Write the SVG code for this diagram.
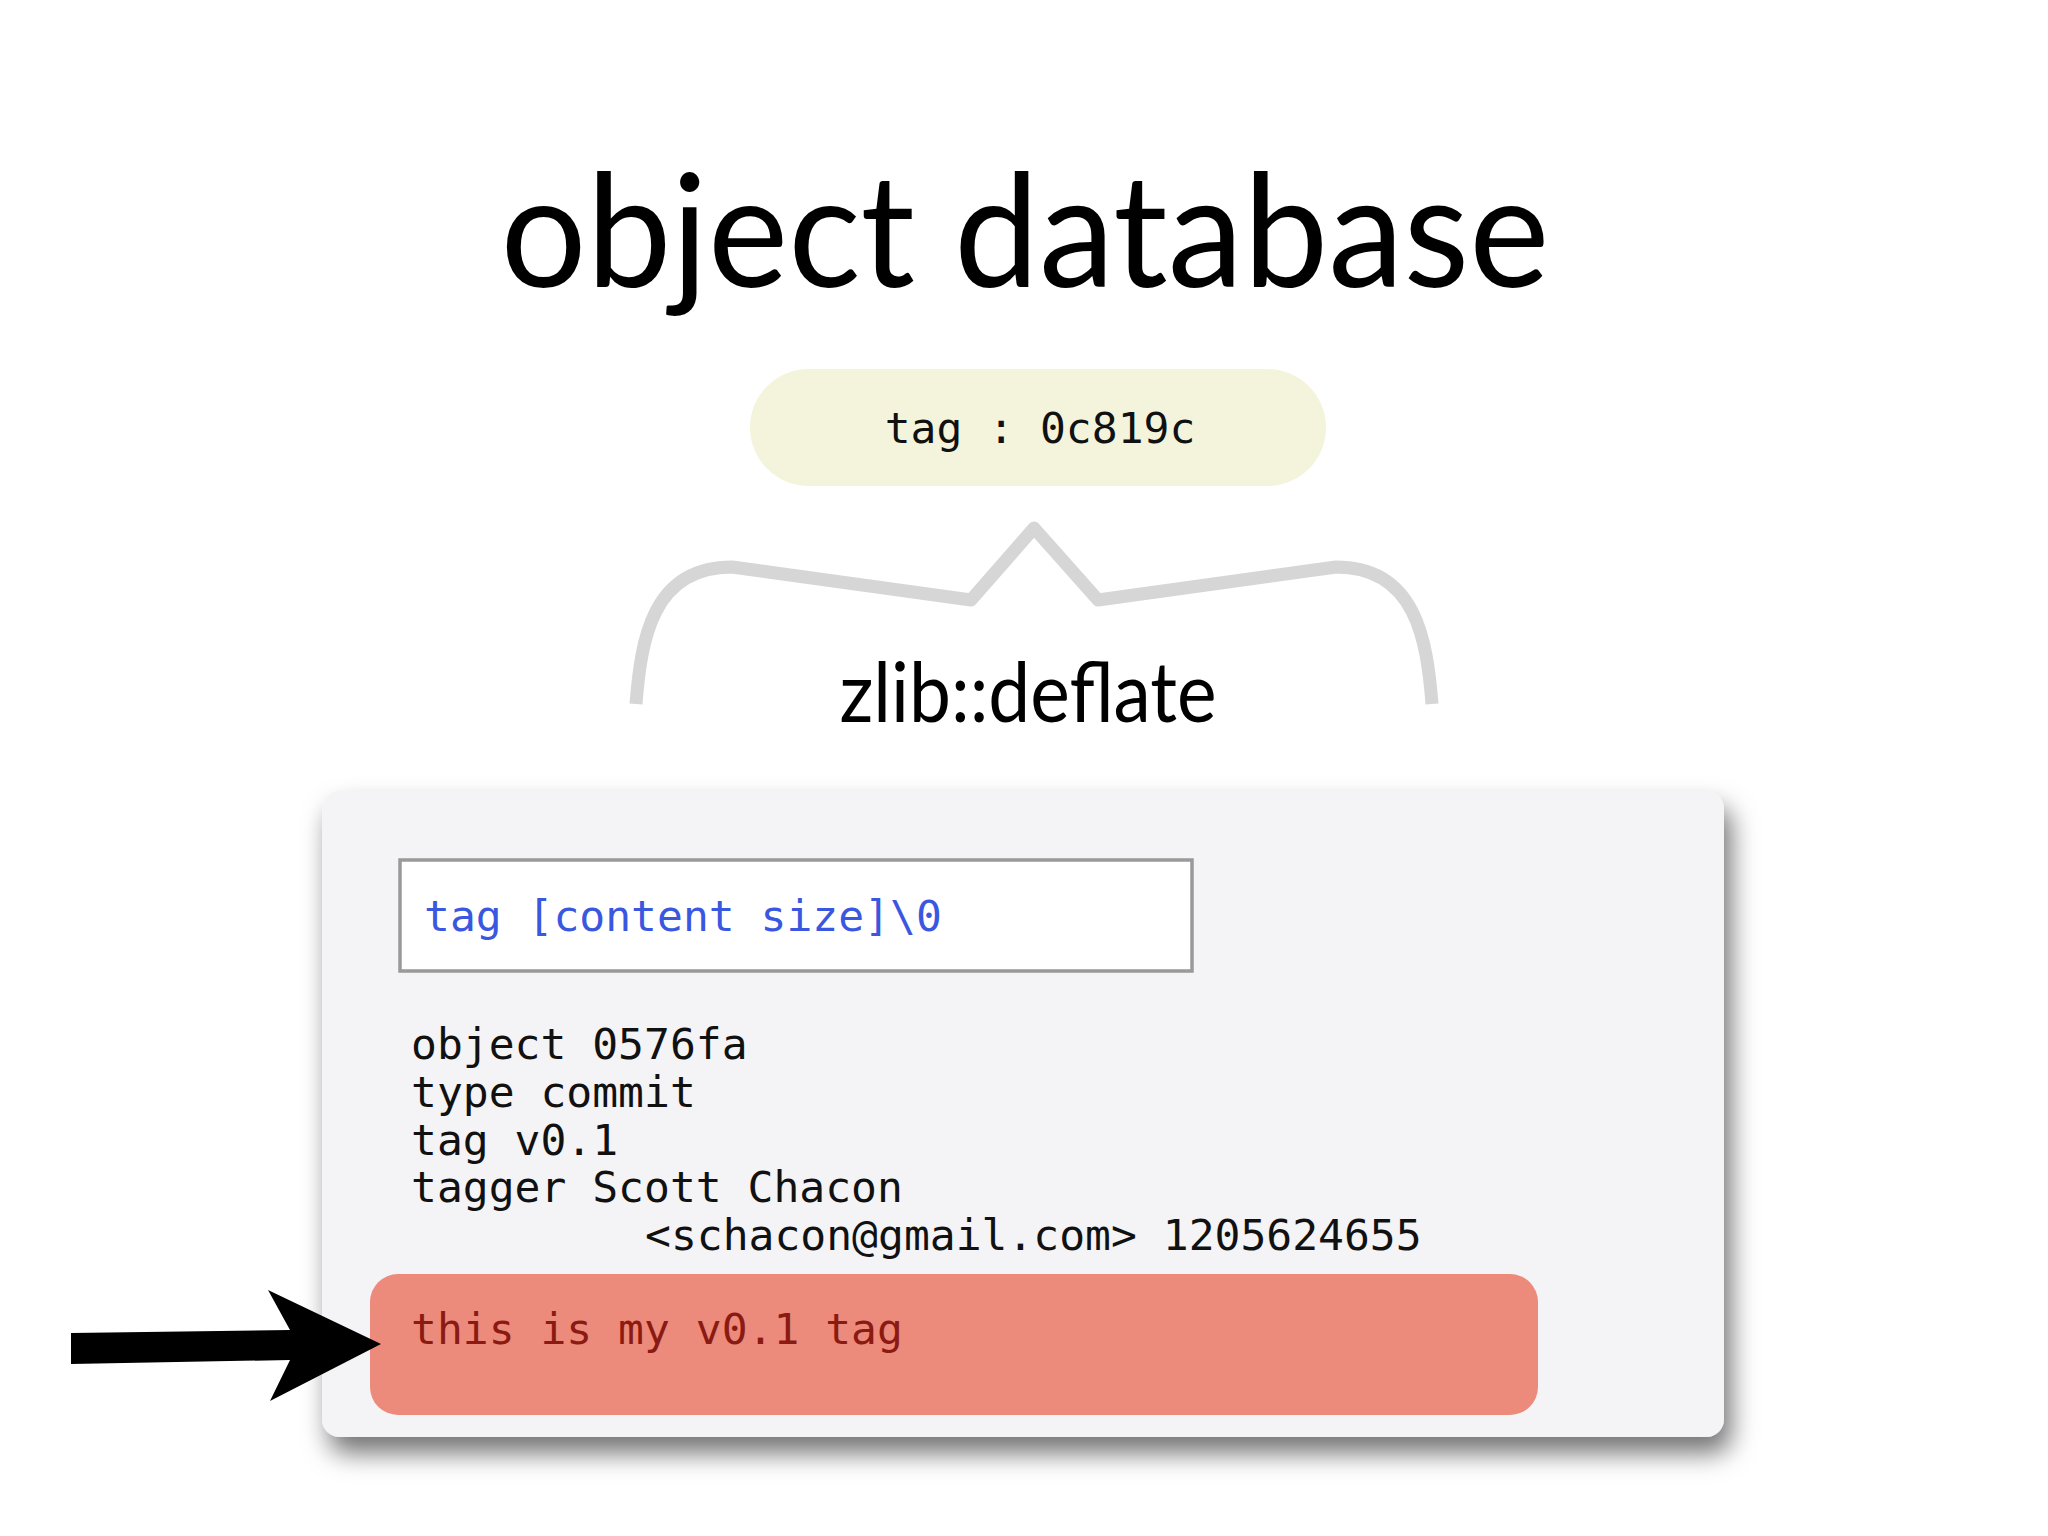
<svg xmlns="http://www.w3.org/2000/svg" width="2048" height="1536" viewBox="0 0 2048 1536">
<style>
.mono{font-family:"DejaVu Sans Mono","Liberation Mono",monospace;font-size:43px}
.title{font-family:Lato,"Noto Sans",sans-serif}
</style>
<defs>
<filter id="sh" x="-10%" y="-10%" width="125%" height="135%">
<feDropShadow dx="7" dy="16" stdDeviation="13" flood-color="#000" flood-opacity="0.55"/>
</filter>
</defs>
<rect width="2048" height="1536" fill="#ffffff"/>
<g id="title">
<text class="title" x="1025" y="287" font-size="158" text-anchor="middle" textLength="1049" lengthAdjust="spacingAndGlyphs">object database</text>
</g>
<g id="tag-node">
<rect x="750" y="369" width="576" height="117" rx="58.5" fill="#f4f4dc"/>
<text class="mono" x="1040" y="443" font-size="42" text-anchor="middle" fill="#111">tag : 0c819c</text>
</g>
<g id="zlib-label">
<text class="title" x="1028" y="722" font-size="84" text-anchor="middle" textLength="377" lengthAdjust="spacingAndGlyphs">zlib::deflate</text>
</g>
<g id="tag-object">
<rect x="322" y="791" width="1402" height="646" rx="18" fill="#f4f3f5" filter="url(#sh)"/>
<rect x="400" y="860" width="792" height="111" fill="#ffffff" stroke="#999999" stroke-width="3.5"/>
<text class="mono" x="424" y="931" fill="#3a57e0">tag [content size]\0</text>
<text class="mono" fill="#111">
<tspan x="411" y="1059">object 0576fa</tspan>
<tspan x="411" y="1107">type commit</tspan>
<tspan x="411" y="1155">tag v0.1</tspan>
<tspan x="411" y="1202">tagger Scott Chacon</tspan>
<tspan x="645" y="1250">&lt;schacon@gmail.com&gt; 1205624655</tspan>
</text>
<rect x="370" y="1274" width="1168" height="141" rx="28" fill="#ec8b7b"/>
<text class="mono" x="411" y="1344" fill="#8a1a12">this is my v0.1 tag</text>
</g>
<g id="connectors">
<path d="M636,704 C641,640 652,567 732,567 L971,600 L1034,528 L1098,600 L1336,567 C1416,567 1427,640 1432,704" fill="none" stroke="#d6d6d6" stroke-width="13" stroke-linejoin="round"/>
<polygon points="71,1333 290,1330 268,1290 381,1344 270,1401 290,1360 71,1364" fill="#000"/>
</g>
</svg>
